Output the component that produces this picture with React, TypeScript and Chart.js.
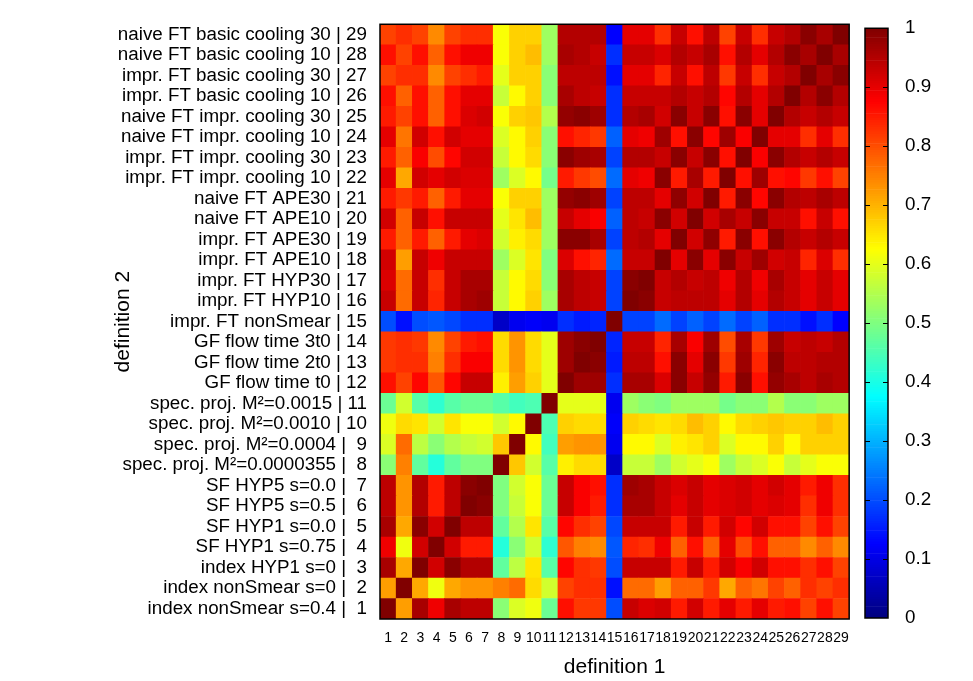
import React, { useEffect, useRef } from 'react';
import { Chart, registerables } from 'chart.js';

Chart.register(...registerables);

// Row labels (definition index 1..29, bottom to top)
const rowLabels: string[] = [
  'index nonSmear s=0.4 |  1',
  'index nonSmear s=0 |  2',
  'index HYP1 s=0 |  3',
  'SF HYP1 s=0.75 |  4',
  'SF HYP1 s=0.0 |  5',
  'SF HYP5 s=0.5 |  6',
  'SF HYP5 s=0.0 |  7',
  'spec. proj. M\u00B2=0.0000355 |  8',
  'spec. proj. M\u00B2=0.0004 |  9',
  'spec. proj. M\u00B2=0.0010 | 10',
  'spec. proj. M\u00B2=0.0015 | 11',
  'GF flow time t0 | 12',
  'GF flow time 2t0 | 13',
  'GF flow time 3t0 | 14',
  'impr. FT nonSmear | 15',
  'impr. FT HYP10 | 16',
  'impr. FT HYP30 | 17',
  'impr. FT APE10 | 18',
  'impr. FT APE30 | 19',
  'naive FT APE10 | 20',
  'naive FT APE30 | 21',
  'impr. FT impr. cooling 10 | 22',
  'impr. FT impr. cooling 30 | 23',
  'naive FT impr. cooling 10 | 24',
  'naive FT impr. cooling 30 | 25',
  'impr. FT basic cooling 10 | 26',
  'impr. FT basic cooling 30 | 27',
  'naive FT basic cooling 10 | 28',
  'naive FT basic cooling 30 | 29',
];

const colLabels: string[] = [
  '1', '2', '3', '4', '5', '6', '7', '8', '9', '10', '11', '12', '13', '14', '15',
  '16', '17', '18', '19', '20', '21', '22', '23', '24', '25', '26', '27', '28', '29',
];

const colorbarTicks: number[] = [0, 0.1, 0.2, 0.3, 0.4, 0.5, 0.6, 0.7, 0.8, 0.9, 1];

// Correlation matrix (symmetric) — lower triangle, row k holds columns 1..k
const row01 = [1.0];
const row02 = [0.72, 1.0];
const row03 = [0.96, 0.71, 1.0];
const row04 = [0.89, 0.61, 0.92, 1.0];
const row05 = [0.96, 0.71, 0.99, 0.92, 1.0];
const row06 = [0.94, 0.73, 0.95, 0.85, 0.94, 1.0];
const row07 = [0.94, 0.73, 0.95, 0.85, 0.94, 0.99, 1.0];
const row08 = [0.51, 0.75, 0.47, 0.41, 0.47, 0.5, 0.5, 1.0];
const row09 = [0.59, 0.77, 0.56, 0.51, 0.55, 0.57, 0.58, 0.68, 1.0];
const row10 = [0.61, 0.66, 0.65, 0.58, 0.65, 0.62, 0.62, 0.58, 0.63, 1.0];
const row11 = [0.48, 0.58, 0.46, 0.42, 0.46, 0.48, 0.48, 0.46, 0.44, 0.45, 1.0];
const row12 = [0.86, 0.81, 0.87, 0.79, 0.87, 0.93, 0.93, 0.64, 0.72, 0.67, 0.6, 1.0];
const row13 = [0.82, 0.83, 0.83, 0.75, 0.83, 0.88, 0.88, 0.66, 0.73, 0.66, 0.6, 0.97, 1.0];
const row14 = [0.82, 0.83, 0.82, 0.74, 0.81, 0.85, 0.86, 0.66, 0.73, 0.66, 0.6, 0.97, 0.99, 1.0];
const row15 = [0.2, 0.14, 0.2, 0.21, 0.195, 0.17, 0.17, 0.07, 0.11, 0.12, 0.11, 0.17, 0.15, 0.16, 1.0];
const row16 = [0.93, 0.77, 0.93, 0.84, 0.93, 0.96, 0.97, 0.57, 0.63, 0.67, 0.53, 0.96, 0.94, 0.93, 0.19, 1.0];
const row17 = [0.91, 0.77, 0.93, 0.83, 0.93, 0.96, 0.96, 0.57, 0.63, 0.66, 0.51, 0.96, 0.94, 0.93, 0.19, 0.99, 1.0];
const row18 = [0.92, 0.72, 0.93, 0.89, 0.93, 0.93, 0.93, 0.53, 0.59, 0.65, 0.5, 0.91, 0.86, 0.84, 0.23, 0.93, 0.93, 1.0];
const row19 = [0.85, 0.78, 0.85, 0.78, 0.85, 0.9, 0.91, 0.58, 0.64, 0.66, 0.53, 0.99, 0.99, 0.96, 0.19, 0.94, 0.95, 0.9, 1.0];
const row20 = [0.92, 0.78, 0.93, 0.86, 0.93, 0.93, 0.93, 0.6, 0.65, 0.69, 0.53, 0.93, 0.9, 0.88, 0.22, 0.94, 0.93, 0.99, 0.92, 1.0];
const row21 = [0.85, 0.82, 0.85, 0.78, 0.85, 0.9, 0.9, 0.62, 0.67, 0.67, 0.53, 0.98, 0.99, 0.97, 0.19, 0.94, 0.94, 0.9, 0.985, 0.92, 1.0];
const row22 = [0.9, 0.71, 0.92, 0.9, 0.92, 0.91, 0.91, 0.53, 0.59, 0.63, 0.49, 0.85, 0.82, 0.8, 0.23, 0.9, 0.89, 0.99, 0.85, 0.96, 0.85, 1.0];
const row23 = [0.85, 0.78, 0.88, 0.8, 0.87, 0.92, 0.92, 0.57, 0.63, 0.66, 0.51, 0.99, 0.97, 0.96, 0.19, 0.95, 0.95, 0.93, 0.99, 0.93, 0.99, 0.86, 1.0];
const row24 = [0.9, 0.76, 0.92, 0.86, 0.92, 0.9, 0.9, 0.59, 0.63, 0.67, 0.51, 0.86, 0.84, 0.82, 0.22, 0.9, 0.89, 0.97, 0.86, 0.99, 0.87, 0.97, 0.88, 1.0];
const row25 = [0.85, 0.81, 0.86, 0.78, 0.86, 0.91, 0.92, 0.62, 0.67, 0.68, 0.55, 0.98, 0.99, 0.97, 0.17, 0.95, 0.96, 0.92, 0.99, 0.93, 0.99, 0.86, 0.99, 0.9, 1.0];
const row26 = [0.86, 0.78, 0.86, 0.78, 0.86, 0.9, 0.9, 0.57, 0.63, 0.67, 0.51, 0.96, 0.94, 0.93, 0.17, 0.93, 0.93, 0.93, 0.95, 0.93, 0.95, 0.87, 0.95, 0.9, 0.95, 1.0];
const row27 = [0.81, 0.83, 0.83, 0.74, 0.81, 0.83, 0.85, 0.6, 0.67, 0.67, 0.51, 0.94, 0.94, 0.94, 0.14, 0.9, 0.9, 0.84, 0.93, 0.86, 0.94, 0.82, 0.93, 0.83, 0.93, 0.95, 1.0];
const row28 = [0.86, 0.81, 0.86, 0.78, 0.86, 0.89, 0.89, 0.62, 0.67, 0.69, 0.53, 0.96, 0.95, 0.93, 0.17, 0.93, 0.93, 0.91, 0.95, 0.93, 0.96, 0.86, 0.95, 0.9, 0.95, 0.99, 0.96, 1.0];
const row29 = [0.81, 0.83, 0.81, 0.74, 0.81, 0.83, 0.83, 0.62, 0.67, 0.67, 0.53, 0.95, 0.95, 0.95, 0.125, 0.9, 0.9, 0.83, 0.93, 0.86, 0.94, 0.81, 0.93, 0.83, 0.93, 0.95, 0.99, 0.96, 1.0];

const lowerRows: number[][] = [
  row01, row02, row03, row04, row05, row06, row07, row08, row09, row10,
  row11, row12, row13, row14, row15, row16, row17, row18, row19, row20,
  row21, row22, row23, row24, row25, row26, row27, row28, row29,
];

function corr(r: number, c: number): number {
  return r >= c ? lowerRows[r][c] : lowerRows[c][r];
}

function clamp01(x: number) {
  return Math.max(0, Math.min(1, x));
}

function jet(v: number): string {
  const r = clamp01(1.5 - Math.abs(4 * v - 3));
  const g = clamp01(1.5 - Math.abs(4 * v - 2));
  const b = clamp01(1.5 - Math.abs(4 * v - 1));
  return `rgb(${Math.round(r * 255)},${Math.round(g * 255)},${Math.round(b * 255)})`;
}

const FONT = '"Liberation Sans", Arial, Helvetica, sans-serif';

const framePlugin = {
  id: 'frame',
  afterDatasetsDraw(chart: any) {
    const { ctx, chartArea } = chart;
    ctx.save();
    ctx.strokeStyle = '#000';
    ctx.lineWidth = 1.5;
    ctx.strokeRect(chartArea.left, chartArea.top, chartArea.right - chartArea.left, chartArea.bottom - chartArea.top);
    ctx.restore();
  },
};

const cbTickPlugin = {
  id: 'cbticks',
  afterDatasetsDraw(chart: any) {
    const { ctx, chartArea } = chart;
    const ys = chart.scales.y;
    ctx.save();
    ctx.strokeStyle = '#000';
    ctx.lineWidth = 1;
    colorbarTicks.forEach((t) => {
      if (t <= 0 || t >= 1) return;
      const y = Math.round(ys.getPixelForValue(t)) + 0.5;
      ctx.beginPath();
      ctx.moveTo(chartArea.left, y);
      ctx.lineTo(chartArea.left + 5, y);
      ctx.moveTo(chartArea.right - 5, y);
      ctx.lineTo(chartArea.right, y);
      ctx.stroke();
    });
    ctx.lineWidth = 1.5;
    ctx.strokeRect(chartArea.left, chartArea.top, chartArea.right - chartArea.left, chartArea.bottom - chartArea.top);
    ctx.restore();
  },
};

export default function App() {
  const mainRef = useRef<HTMLCanvasElement | null>(null);
  const cbRef = useRef<HTMLCanvasElement | null>(null);

  useEffect(() => {
    if (!mainRef.current || !cbRef.current) return;

    const datasets = rowLabels.map((_, r) => ({
      label: rowLabels[r],
      data: colLabels.map(() => [r + 1 - 0.5, r + 1 + 0.5]),
      backgroundColor: colLabels.map((_, c) => jet(corr(r, c))),
      borderWidth: 0,
      grouped: false,
      barPercentage: 1,
      categoryPercentage: 1,
    }));

    const main = new Chart(mainRef.current, {
      type: 'bar',
      data: { labels: colLabels, datasets: datasets as any },
      options: {
        animation: false,
        responsive: false,
        devicePixelRatio: 1,
        layout: { padding: { left: 0, top: 22, right: 8, bottom: 0 } },
        plugins: { legend: { display: false }, tooltip: { enabled: false } },
        scales: {
          x: {
            type: 'category',
            offset: true,
            grid: { display: false, drawTicks: false },
            border: { display: false },
            ticks: {
              color: '#000',
              font: { family: FONT, size: 14 },
              padding: 11,
              autoSkip: false,
              maxRotation: 0,
              minRotation: 0,
            },
            title: {
              display: true,
              text: 'definition 1',
              color: '#000',
              font: { family: FONT, size: 21, lineHeight: 1.1 },
              padding: { top: 0, bottom: 2 },
            },
            afterFit: (s: any) => {
              s.height = 62;
            },
          },
          y: {
            type: 'linear',
            min: 0.5,
            max: 29.5,
            grid: { display: false, drawTicks: false },
            border: { display: false },
            afterBuildTicks: (s: any) => {
              s.ticks = rowLabels.map((_, i) => ({ value: i + 1 }));
            },
            ticks: {
              color: '#000',
              font: { family: FONT, size: 18.8 },
              padding: 13,
              autoSkip: false,
              callback: (v: any) => rowLabels[Math.round(Number(v)) - 1],
            },
            title: {
              display: true,
              text: 'definition 2',
              color: '#000',
              font: { family: FONT, size: 21, lineHeight: 1.1 },
              padding: { top: 112, bottom: 0 },
            },
            afterFit: (s: any) => {
              s.width = 380;
            },
          },
        },
      },
      plugins: [framePlugin],
    });

    const steps = 256;
    const cbSteps = Array.from({ length: steps }, (_, k) => k);
    const cbDatasets = cbSteps.map((k) => ({
      data: [[k / steps, (k + 1) / steps]],
      backgroundColor: jet((k + 0.5) / steps),
      borderWidth: 0,
      grouped: false,
      barPercentage: 1,
      categoryPercentage: 1,
    }));

    const cb = new Chart(cbRef.current, {
      type: 'bar',
      data: { labels: ['cb'], datasets: cbDatasets as any },
      options: {
        animation: false,
        responsive: false,
        devicePixelRatio: 1,
        layout: { padding: { left: 10, top: 22, right: 0, bottom: 63 } },
        plugins: { legend: { display: false }, tooltip: { enabled: false } },
        scales: {
          x: { display: false, offset: true },
          y: {
            position: 'right',
            min: 0,
            max: 1,
            grid: { display: false, drawTicks: false },
            border: { display: false },
            afterBuildTicks: (s: any) => {
              s.ticks = colorbarTicks.map((t) => ({ value: t }));
            },
            ticks: {
              color: '#000',
              font: { family: FONT, size: 18.8 },
              padding: 17,
              callback: (v: any) => String(Number(Number(v).toFixed(1))),
            },
            afterFit: (s: any) => {
              s.width = 85;
            },
          },
        },
      },
      plugins: [cbTickPlugin],
    });

    return () => {
      main.destroy();
      cb.destroy();
    };
  }, []);

  return (
    <div style={{ position: 'fixed', left: 0, top: 0, width: 973, height: 681, background: '#fff' }}>
      <canvas ref={mainRef} width={860} height={681} style={{ position: 'absolute', left: 0, top: 0 }} />
      <canvas ref={cbRef} width={118} height={681} style={{ position: 'absolute', left: 855, top: 0 }} />
    </div>
  );
}
